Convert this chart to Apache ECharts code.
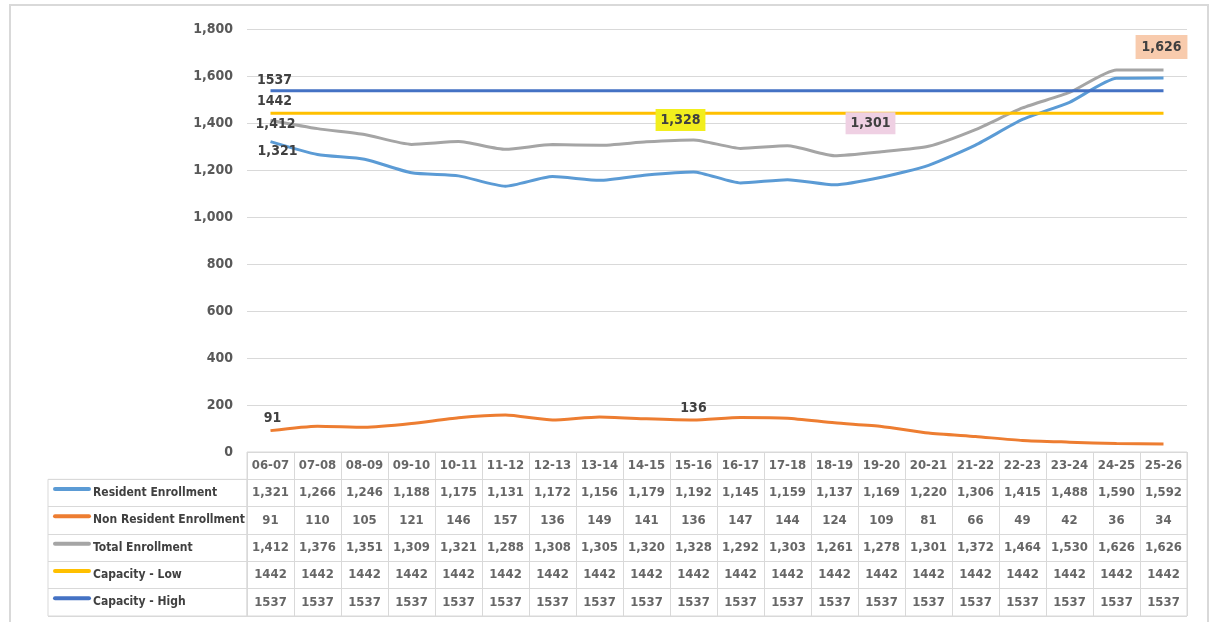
<!DOCTYPE html>
<html>
<head>
<meta charset="utf-8">
<script src="https://cdn.jsdelivr.net/npm/echarts@6/dist/echarts.min.js"></script>
<style>
  html, body { margin: 0; padding: 0; background: #fff; }
  #main { width: 1215px; height: 622px; }
</style>
</head>
<body>
<div id="main"></div>
<script>
// data
var years = ['06-07', '07-08', '08-09', '09-10', '10-11', '11-12', '12-13', '13-14', '14-15', '15-16',
  '16-17', '17-18', '18-19', '19-20', '20-21', '21-22', '22-23', '23-24', '24-25', '25-26'];
var resident = [1321, 1266, 1246, 1188, 1175, 1131, 1172, 1156, 1179, 1192, 1145, 1159, 1137, 1169, 1220, 1306, 1415, 1488, 1590, 1592];
var nonResident = [91, 110, 105, 121, 146, 157, 136, 149, 141, 136, 147, 144, 124, 109, 81, 66, 49, 42, 36, 34];
var total = [1412, 1376, 1351, 1309, 1321, 1288, 1308, 1305, 1320, 1328, 1292, 1303, 1261, 1278, 1301, 1372, 1464, 1530, 1626, 1626];
var capLow = [1442, 1442, 1442, 1442, 1442, 1442, 1442, 1442, 1442, 1442, 1442, 1442, 1442, 1442, 1442, 1442, 1442, 1442, 1442, 1442];
var capHigh = [1537, 1537, 1537, 1537, 1537, 1537, 1537, 1537, 1537, 1537, 1537, 1537, 1537, 1537, 1537, 1537, 1537, 1537, 1537, 1537];
var seriesNames = ['Resident Enrollment', 'Non Resident Enrollment', 'Total Enrollment', 'Capacity - Low', 'Capacity - High'];
var colors = ['#5b9bd5', '#ed7d31', '#a5a5a5', '#ffc000', '#4472c4'];
var yMin = 0, yMax = 1800, yStep = 200;

var font = "'DejaVu Sans Condensed', 'Liberation Sans Narrow', sans-serif";
var txt = '#404040';
var border = '#d9d9d9';

var myChart = echarts.init(document.getElementById('main'));

function fmt (v) { return v.toLocaleString('en-US'); }

// 给某些点加标签
function withLabels (values, labels) {
  return values.map(function (v, i) {
    if (!labels[i]) return v;
    return { value: v, label: Object.assign({ show: true, fontFamily: font, fontWeight: 'bold', fontSize: 14, color: txt }, labels[i]) };
  });
}

var lineSeries = [
  withLabels(resident, { 0: { position: 'bottom', offset: [7, -2], formatter: '1,321' } }),
  withLabels(nonResident, { 0: { position: 'top', offset: [2, 0] }, 9: { position: 'top' } }),
  withLabels(total, {
    0: { position: 'inside', offset: [5, 4], formatter: '1,412' },
    9: { position: 'top', offset: [-13, -4], formatter: '1,328', backgroundColor: '#f2ee1d', padding: [4, 5] },
    14: { position: 'top', offset: [-58, -7], formatter: '1,301', backgroundColor: '#efd0e3', padding: [4, 5] },
    19: { position: 'top', offset: [-2, -6], formatter: '1,626', backgroundColor: '#f8cbad', padding: [5, 6] }
  }),
  withLabels(capLow, { 0: { position: 'top', offset: [4, 0] } }),
  withLabels(capHigh, { 0: { position: 'top', offset: [4, 2] } })
];

// table cells
var tableRows = [years, resident.map(fmt), nonResident.map(fmt), total.map(fmt), capLow.map(String), capHigh.map(String)];
var cells = [];
tableRows.forEach(function (row, r) {
  row.forEach(function (t, c) {
    cells.push({ value: [c, r], name: t });
  });
});

var rich = { t: { fontFamily: font, fontWeight: 'bold', fontSize: 12, color: txt, padding: [0, 0, 0, 2] } };
colors.forEach(function (c, i) {
  rich['k' + i] = { width: 38, height: 4, backgroundColor: c, borderRadius: 2, verticalAlign: 'top' };
});

var tableTop = 452, tableBottom = 6;
var rowH = (622 - tableTop - tableBottom) / 6;

let option = {
  animation: false,
  graphic: [{
    type: 'rect', shape: { x: 10, y: 5, width: 1198, height: 660 },
    style: { fill: null, stroke: border, lineWidth: 2 }, silent: true
  }],
  grid: [
    { left: 247, right: 28, top: 29, bottom: 622 - tableTop },
    { left: 247, right: 28, top: tableTop, bottom: tableBottom, show: true, borderColor: border, borderWidth: 1 },
    { left: 48, width: 199, top: tableTop + rowH, bottom: tableBottom, show: true, borderColor: border, borderWidth: 1 }
  ],
  xAxis: [
    { gridIndex: 0, type: 'category', data: years, boundaryGap: true, show: false },
    {
      gridIndex: 1, type: 'category', data: years, boundaryGap: true,
      axisLine: { show: false }, axisTick: { show: false }, axisLabel: { show: false },
      splitLine: { show: true, interval: 0, lineStyle: { color: border, width: 1 } }
    },
    { gridIndex: 2, type: 'value', show: false }
  ],
  yAxis: [
    {
      gridIndex: 0, type: 'value', min: yMin, max: yMax, interval: yStep,
      axisLine: { show: false }, axisTick: { show: false },
      axisLabel: { fontFamily: font, fontWeight: 'bold', fontSize: 14, color: '#595959', margin: 14, formatter: fmt },
      splitLine: { lineStyle: { color: border, width: 1 } }
    },
    {
      gridIndex: 1, type: 'category', inverse: true, data: [''].concat(seriesNames), boundaryGap: true,
      axisLine: { show: false }, axisTick: { show: false }, axisLabel: { show: false },
      splitLine: { show: true, interval: 0, lineStyle: { color: border, width: 1 } }
    },
    {
      gridIndex: 2, type: 'category', inverse: true, data: seriesNames, boundaryGap: true,
      axisLine: { show: false }, axisTick: { show: false },
      splitLine: { show: true, interval: 0, lineStyle: { color: border, width: 1 } },
      axisLabel: {
        inside: true, margin: 5, interval: 0,
        formatter: function (v, i) { return '{k' + i + '|}{t|' + v + '}'; },
        rich: rich
      }
    }
  ],
  series: seriesNames.map(function (name, i) {
    return {
      name: name, type: 'line', xAxisIndex: 0, yAxisIndex: 0,
      data: lineSeries[i], symbol: 'circle', symbolSize: 0, showSymbol: true,
      smooth: i < 3 ? 0.2 : false,
      lineStyle: { color: colors[i], width: 3 }, itemStyle: { color: colors[i] }
    };
  }).concat([{
    type: 'scatter', xAxisIndex: 1, yAxisIndex: 1, symbolSize: 0, silent: true,
    data: cells,
    label: { show: true, position: 'inside', formatter: '{b}', fontFamily: font, fontWeight: 'bold', fontSize: 13, color: txt }
  }])
};

myChart.setOption(option);
</script>
</body>
</html>
